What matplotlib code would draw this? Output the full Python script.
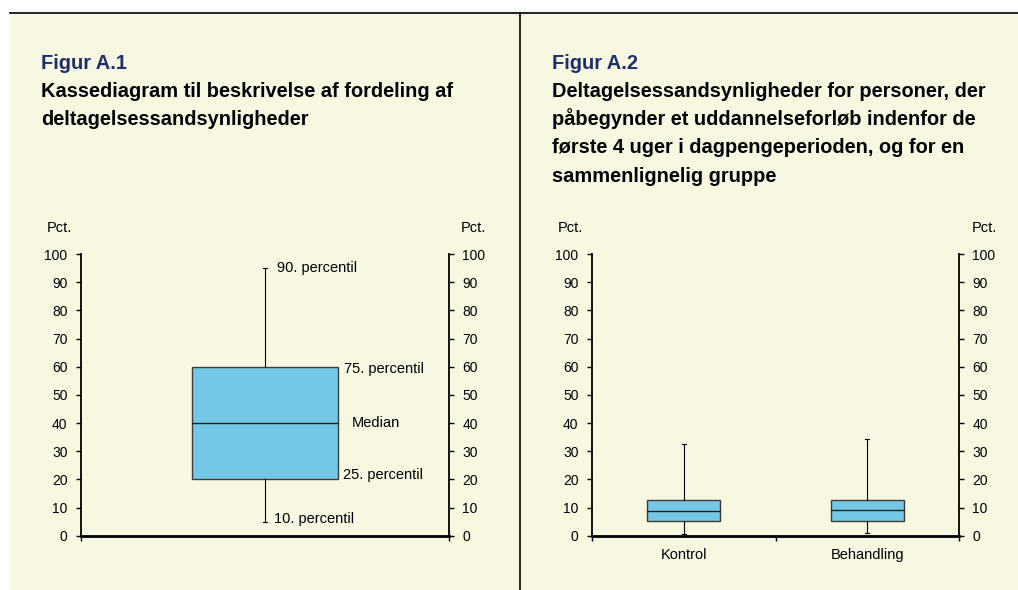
import matplotlib.pyplot as plt
from matplotlib.patches import Rectangle
from matplotlib.lines import Line2D

plt.rcParams['font.family'] = ['Liberation Sans', 'DejaVu Sans']

# Figur A.1 - illustrative box
a1_stats = dict(whislo=5, q1=20, med=40, q3=60, whishi=95)
a1_labels = ["90. percentil", "75. percentil", "Median", "25. percentil", "10. percentil"]

# Figur A.2 - Kontrol / Behandling
groups = ["Kontrol", "Behandling"]
p10 = [0.7, 0.8]
p25 = [5.2, 5.3]
p50 = [8.9, 9.0]
p75 = [12.5, 12.6]
p90 = [32.5, 34.5]

yticks = list(range(0, 101, 10))

title1 = ["Kassediagram til beskrivelse af fordeling af",
          "deltagelsessandsynligheder"]
title2 = ["Deltagelsessandsynligheder for personer, der",
          "påbegynder et uddannelseforløb indenfor de",
          "første 4 uger i dagpengeperioden, og for en",
          "sammenlignelig gruppe"]

W, H = 1018, 590
cream = '#F8F7E1'
box_fill = '#74C8E6'
navy = '#1B2F6B'

fig = plt.figure(figsize=(W / 100, H / 100), dpi=100)
fig.patch.set_facecolor('white')


def fx(x):
    return x / W


def fy(y):
    return 1 - y / H


# background panel and frame lines
fig.patches.append(Rectangle((fx(10), 0), 1 - fx(10), fy(13), transform=fig.transFigure,
                             facecolor=cream, edgecolor='none', zorder=-5))
fig.lines.append(Line2D([fx(10), 1], [fy(13), fy(13)], transform=fig.transFigure,
                        color='black', lw=1.2, zorder=-4))
fig.lines.append(Line2D([fx(520), fx(520)], [fy(13), 0], transform=fig.transFigure,
                        color='black', lw=1.2, zorder=-4))

# titles
for x0, head, lines in ((41, "Figur A.1", title1), (552, "Figur A.2", title2)):
    fig.text(fx(x0), fy(69), head, color=navy, fontsize=14.4, fontweight='bold', va='baseline')
    for i, line in enumerate(lines):
        fig.text(fx(x0), fy(97 + 28.2 * i), line, fontsize=14.4, fontweight='bold', va='baseline')

# Pct. labels
fig.text(fx(47), fy(228), "Pct.", fontsize=10.5, va='center')
fig.text(fx(486), fy(228), "Pct.", fontsize=10.5, va='center', ha='right')
fig.text(fx(558), fy(228), "Pct.", fontsize=10.5, va='center')
fig.text(fx(997), fy(228), "Pct.", fontsize=10.5, va='center', ha='right')


def style_axes(ax, xticks):
    ax.set_facecolor('none')
    ax.set_ylim(0, 100)
    ax.set_yticks(yticks)
    ax.spines['top'].set_visible(False)
    for s in ('left', 'right'):
        ax.spines[s].set_linewidth(1.3)
    ax.spines['bottom'].set_linewidth(2)
    ax.tick_params(axis='y', which='major', left=True, right=True, labelleft=True,
                   labelright=True, direction='out', length=3.5, width=1,
                   labelsize=10, pad=6)
    ax.set_xticks(xticks)
    ax.tick_params(axis='x', which='major', direction='out', length=3.5, width=1,
                   labelbottom=False)


box_kw = dict(patch_artist=True, showfliers=False,
              boxprops=dict(facecolor=box_fill, edgecolor='#3C3C3C', linewidth=1),
              medianprops=dict(color='#202020', linewidth=1),
              whiskerprops=dict(color='black', linewidth=0.8),
              capprops=dict(color='black', linewidth=0.8))

# left panel
ax1 = fig.add_axes([fx(80.7), fy(535.7), (449 - 80.7) / W, (535.7 - 254) / H])
ax1.bxp([a1_stats], positions=[0.5], widths=0.398, capwidths=0.011, **box_kw)
ax1.set_xlim(0, 1)
style_axes(ax1, [0, 1])
ax1.text(0.533, a1_stats['whishi'], a1_labels[0], fontsize=10.5, va='center')
ax1.text(0.715, a1_stats['q3'] - 0.8, a1_labels[1], fontsize=10.5, va='center')
ax1.text(0.737, a1_stats['med'], a1_labels[2], fontsize=10.5, va='center')
ax1.text(0.713, a1_stats['q1'] + 1.5, a1_labels[3], fontsize=10.5, va='center')
ax1.text(0.525, a1_stats['whislo'] + 1, a1_labels[4], fontsize=10.5, va='center')

# right panel
stats = [dict(whislo=p10[i], q1=p25[i], med=p50[i], q3=p75[i], whishi=p90[i], label=groups[i])
         for i in range(len(groups))]
ax2 = fig.add_axes([fx(591.7), fy(535.7), (959.3 - 591.7) / W, (535.7 - 254) / H])
ax2.bxp(stats, positions=[0.5, 1.5], widths=0.4, capwidths=0.022, **box_kw)
ax2.set_xlim(0, 2)
style_axes(ax2, [0, 1, 2])
ax2.set_xticks([0.5, 1.5], minor=True)
ax2.set_xticklabels(groups, minor=True)
ax2.tick_params(axis='x', which='minor', length=0, labelsize=10.5, pad=9)

fig.savefig('out.png', dpi=100, facecolor=fig.get_facecolor())
